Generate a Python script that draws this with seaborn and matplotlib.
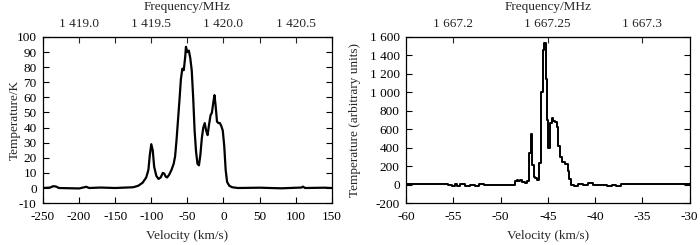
import matplotlib
matplotlib.use('Agg')
import matplotlib.pyplot as plt
import numpy as np
import pandas as pd
import seaborn as sns
from matplotlib.ticker import MultipleLocator, FuncFormatter

# HI 21 cm profile (left panel)
hi_velocity = [-250, -240, -236, -232, -228, -200, -190, -186, -170, -150,
               -125, -118, -112, -107, -104, -102, -100, -98, -96, -93,
               -90, -87, -84, -82, -80, -78, -75, -72, -69, -67,
               -65, -63, -61, -59, -57, -55, -53, -52, -50, -48,
               -46, -44, -42, -40, -38, -36, -34, -32, -30, -28,
               -26, -24, -22, -20, -18, -16, -14, -12.5, -11, -9,
               -7, -5, -3, -1, 1, 3, 5, 8, 12, 20,
               50, 80, 108, 110, 113, 140, 150]
hi_temp = [0, 0.3, 1.2, 1.0, 0, -0.3, 0.8, 0, 0.3, 0,
           0.5, 1.5, 3.5, 7, 12, 22, 29, 25, 14, 8,
           6, 7, 10, 9.5, 7.5, 7, 9, 12, 16, 21,
           32, 45, 58, 72, 79, 78, 87, 93.5, 90, 91,
           86, 78, 60, 38, 24, 16, 15, 22, 33, 40,
           43, 38, 35, 42, 48, 50, 57, 61.5, 55, 44,
           43, 43, 41, 38, 28, 12, 4, 1.5, 0.5, 0,
           0.2, -0.2, 0.3, 0.9, 0, 0.2, 0]

# OH 1667 MHz profile (right panel)
oh_velocity = [-60, -56, -55.2, -55, -54.7, -54.5, -54, -53.5, -53, -52.5,
               -52, -51.5, -50, -49, -48.6, -48.4, -48.2, -48.0, -47.8, -47.6,
               -47.3, -47.0, -46.9, -46.7, -46.55, -46.4, -46.2, -46.0, -45.8, -45.6,
               -45.45, -45.3, -45.15, -45.0, -44.85, -44.7, -44.5, -44.3, -44.1, -43.95,
               -43.8, -43.6, -43.3, -43.0, -42.8, -42.6, -42.4, -42.0, -41.5, -41,
               -40.4, -40.0, -39, -38.5, -38, -37.6, -37, -34, -30]
oh_temp = [5, 5, 0, -15, 5, -10, 3, -10, 0, -12,
           5, -8, -5, -5, 0, 40, 50, 35, 50, 30,
           20, 40, 340, 550, 210, 80, 70, 50, 240, 1000,
           1460, 1530, 1150, 700, 400, 670, 720, 690, 680, 620,
           420, 300, 250, 220, 150, 60, 0, -15, 5, 0,
           20, 0, 0, -15, 0, -10, 5, 5, 5]

hi_freq_ticks = [1419.0, 1419.5, 1420.0, 1420.5]
oh_freq_ticks = [1667.2, 1667.25, 1667.3]

sns.set_style('ticks')
plt.rcParams['font.family'] = ['Liberation Serif', 'DejaVu Serif']
plt.rcParams['font.size'] = 9.5
plt.rcParams['axes.unicode_minus'] = False


def thousands(v, pos):
    return f"{v:,.0f}".replace(',', ' ')


fig = plt.figure(figsize=(7.0, 2.45), dpi=100)
ax1 = fig.add_axes([0.0614, 0.171, 0.4126, 0.678])
ax2 = fig.add_axes([0.580, 0.171, 0.405, 0.678])

df_hi = pd.DataFrame({'v': hi_velocity, 't': hi_temp})
df_oh = pd.DataFrame({'v': oh_velocity, 't': oh_temp})

sns.lineplot(data=df_hi, x='v', y='t', ax=ax1, color='black', lw=1.6, sort=False, estimator=None)
sns.lineplot(data=df_oh, x='v', y='t', ax=ax2, color='black', lw=1.4, sort=False,
             estimator=None, drawstyle='steps-mid')

ax1.set_xlim(-250, 150)
ax1.set_ylim(-10, 100)
ax1.xaxis.set_major_locator(MultipleLocator(50))
ax1.yaxis.set_major_locator(MultipleLocator(10))
ax1.set_xlabel('Velocity (km/s)', labelpad=5)
ax1.set_ylabel('Temperature/K')
ax1.yaxis.set_label_coords(-0.076, 0.5)

ax2.set_xlim(-60, -30)
ax2.set_ylim(-200, 1600)
ax2.xaxis.set_major_locator(MultipleLocator(5))
ax2.yaxis.set_major_locator(MultipleLocator(200))
ax2.yaxis.set_major_formatter(FuncFormatter(thousands))
ax2.set_xlabel('Velocity (km/s)', labelpad=5)
ax2.set_ylabel('Temperature (arbitrary units)')
ax2.yaxis.set_label_coords(-0.159, 0.5)

for ax in (ax1, ax2):
    ax.tick_params(direction='in', length=4, width=0.8, right=True, top=False,
                   labelsize=9.5, colors='black')
    ax.tick_params(axis='x', pad=6)
    ax.tick_params(axis='y', pad=4.5)
    for s in ax.spines.values():
        s.set_visible(True)
        s.set_linewidth(0.9)
        s.set_color('black')

# top frequency axes
sec1 = ax1.secondary_xaxis('top', functions=(lambda v: 1420.0 + v / 200.0,
                                             lambda f: (f - 1420.0) * 200.0))
sec1.set_xticks(hi_freq_ticks)
sec1.set_xticklabels([f"1 {f - 1000:.1f}" for f in hi_freq_ticks])
sec1.xaxis.set_minor_locator(MultipleLocator(0.25))
sec1.tick_params(which='both', direction='in', length=4, width=0.8, pad=5)
sec1.set_xlabel('Frequency/MHz', labelpad=6)

sec2 = ax2.secondary_xaxis('top', functions=(lambda v: 1667.25 + (v + 45.0) * 0.005,
                                             lambda f: (f - 1667.25) / 0.005 - 45.0))
sec2.set_xticks(oh_freq_ticks)
sec2.set_xticklabels(["1 667.2", "1 667.25", "1 667.3"])
sec2.tick_params(direction='in', length=4, width=0.8, pad=5)
sec2.set_xlabel('Frequency/MHz', labelpad=6)

fig.savefig('out.png', dpi=100)
